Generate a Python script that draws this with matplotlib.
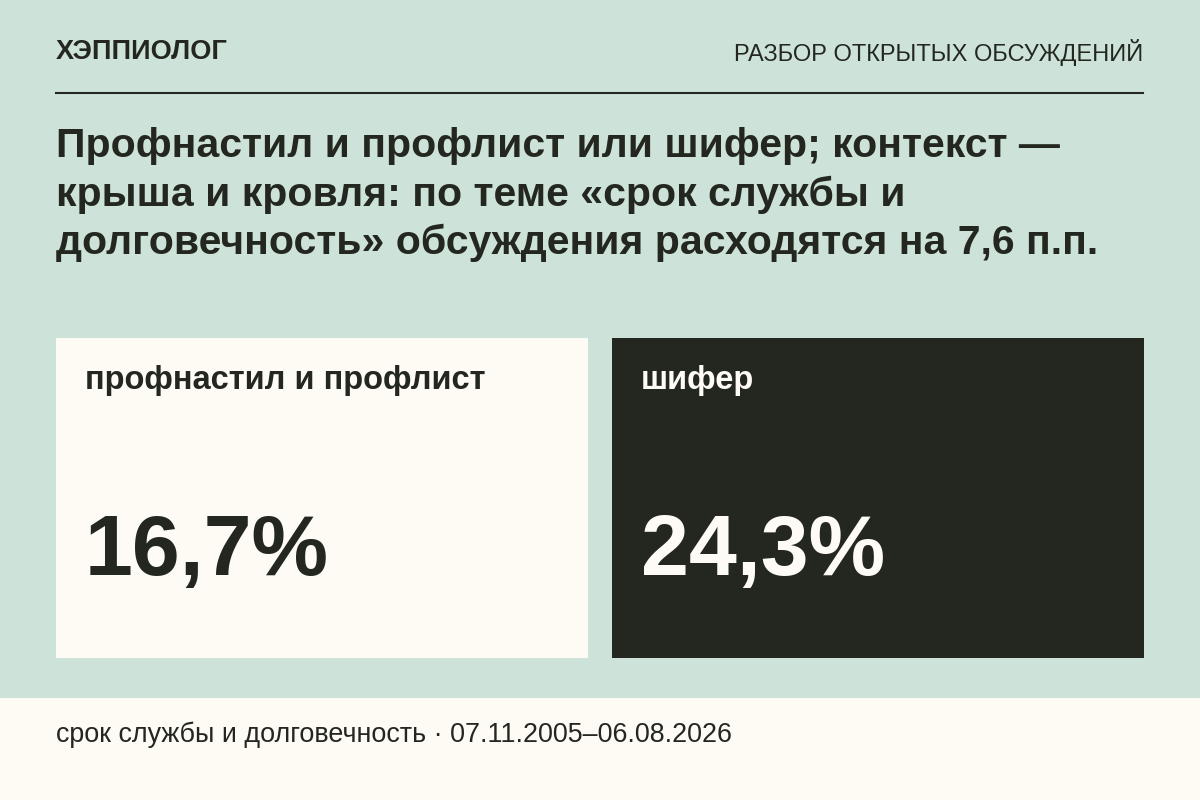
import matplotlib
matplotlib.use("Agg")
import matplotlib.pyplot as plt
from matplotlib.patches import Rectangle

plt.rcParams['font.family'] = ['Liberation Sans', 'DejaVu Sans']

brand = "ХЭППИОЛОГ"
section = "РАЗБОР ОТКРЫТЫХ ОБСУЖДЕНИЙ"
title_lines = ["Профнастил и профлист или шифер; контекст —",
               "крыша и кровля: по теме «срок службы и",
               "долговечность» обсуждения расходятся на 7,6 п.п."]
labels = ["профнастил и профлист", "шифер"]
values = [16.7, 24.3]
footer = "срок службы и долговечность · 07.11.2005–06.08.2026"

bg = "#cde3da"
cream = "#fdfbf3"
dark = "#23271f"

fig = plt.figure(figsize=(12, 8), dpi=100)
fig.patch.set_facecolor(bg)
ax = fig.add_axes([0, 0, 1, 1])
ax.set_xlim(0, 1200)
ax.set_ylim(800, 0)
ax.axis("off")

ax.text(56, 52, brand, fontsize=19.5, fontweight="bold", color=dark, va="center")
ax.text(1143, 52, section, fontsize=17, color=dark, va="center", ha="right")
ax.plot([56, 1143], [93, 93], color=dark, lw=1.5)

for i, line in enumerate(title_lines):
    ax.text(56, 146 + i * 48.5, line, fontsize=29.5, fontweight="bold", color=dark, va="center")

panel_x = [56, 612]
panel_w = 532
for x, lab, v, fc, tc in zip(panel_x, labels, values, [cream, dark], [dark, cream]):
    ax.add_patch(Rectangle((x, 338), panel_w, 320, facecolor=fc, edgecolor="none"))
    ax.text(x + 29, 381, lab, fontsize=23.5, fontweight="bold", color=tc, va="center")
    ax.text(x + 29, 553, f"{v:.1f}%".replace(".", ","), fontsize=62, fontweight="bold",
            color=tc, va="center")

ax.add_patch(Rectangle((0, 698), 1200, 102, facecolor=cream, edgecolor="none"))
ax.text(56, 735, footer, fontsize=19.4, color=dark, va="center")

fig.savefig("out.png", dpi=100, facecolor=bg)
